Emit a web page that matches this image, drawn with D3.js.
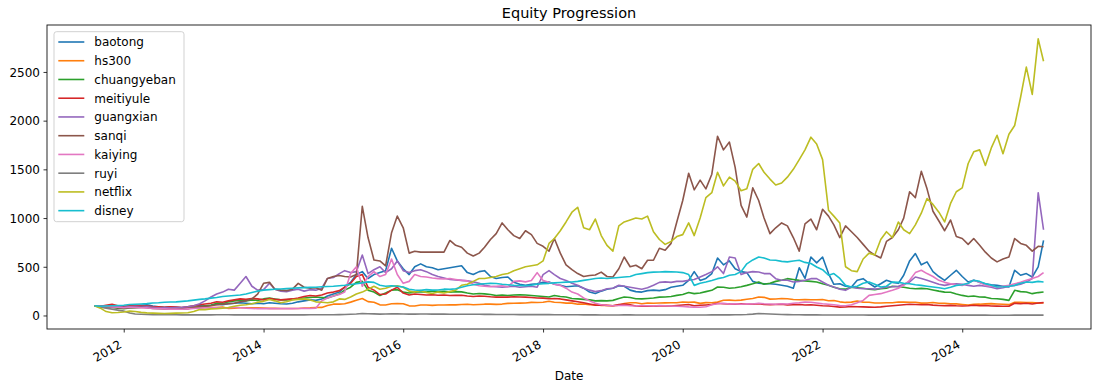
<!DOCTYPE html>
<html>
<head>
<meta charset="utf-8">
<script src="https://cdn.jsdelivr.net/npm/d3@7"></script>
<style>
	body { margin: 0; background: #fff; }
	text { font-family: "DejaVu Sans", sans-serif; fill: #000; }
</style>
</head>
<body>
<div id="chart"></div>
<script>
"use strict";

// monthly samples, Aug 2011 .. Mar 2025
var months = d3.timeMonth.range(new Date(2011, 7, 1), new Date(2025, 2, 2));

var names  = ["baotong", "hs300", "chuangyeban", "meitiyule", "guangxian", "sanqi", "kaiying", "ruyi", "netflix", "disney"];
var colors = ["#1f77b4", "#ff7f0e", "#2ca02c", "#d62728", "#9467bd", "#8c564b", "#e377c2", "#7f7f7f", "#bcbd22", "#17becf"];
var yTicks = [0, 500, 1000, 1500, 2000, 2500];
var xTicks = [2012, 2014, 2016, 2018, 2020, 2022, 2024];

var baotong = [
	100, 95, 98, 100, 92,
	88, 95, 100, 105, 110, 98, 90, 85, 88, 85, 80, 88,
	95, 100, 98, 105, 115, 110, 120, 125, 130, 125, 120, 125,
	120, 130, 125, 120, 118, 125, 140, 150, 160, 155, 170, 200,
	220, 240, 290, 340, 420, 450, 380, 420, 440, 460, 690, 560,
	480, 420, 500, 530, 500, 490, 470, 480, 490, 500, 510, 440,
	420, 450, 460, 400, 380, 390, 395, 340, 320, 310, 320, 325,
	340, 345, 320, 310, 295, 300, 305, 280, 240, 225, 250, 270,
	280, 305, 300, 260, 245, 240, 255, 260, 255, 265, 290, 300,
	310, 360, 450, 360, 380, 430, 590, 520, 560, 480, 450, 440,
	350, 330, 325, 325, 320, 310, 300, 280, 490, 380, 600, 540,
	600, 430, 320, 326, 300, 292, 361, 378, 330, 292, 326, 361,
	340, 330, 413, 560, 636, 520, 550, 450, 400, 361, 413, 464,
	400, 344, 361, 340, 326, 315, 309, 300, 292, 464, 413, 430,
	395, 498, 770
];

var hs300 = [
	100, 93, 90, 92, 84,
	80, 86, 88, 87, 89, 86, 80, 78, 74, 77, 75, 73,
	84, 88, 86, 81, 82, 86, 72, 74, 79, 80, 80, 80,
	77, 73, 73, 71, 72, 71, 71, 77, 78, 82, 83, 103,
	116, 117, 120, 137, 156, 174, 142, 135, 109, 108, 120, 122,
	121, 99, 97, 108, 107, 104, 108, 108, 110, 109, 112, 116,
	110, 113, 116, 116, 114, 117, 124, 126, 127, 128, 134, 133,
	135, 146, 136, 133, 127, 127, 116, 117, 110, 112, 104, 106,
	100, 106, 123, 130, 130, 120, 128, 126, 128, 129, 131, 130,
	138, 135, 137, 124, 132, 131, 138, 157, 158, 154, 158, 166,
	175, 190, 186, 168, 169, 175, 172, 164, 162, 164, 162, 162,
	164, 151, 153, 140, 134, 137, 148, 137, 136, 128, 128, 130,
	130, 138, 137, 136, 136, 127, 128, 133, 126, 124, 120, 119,
	113, 108, 115, 116, 119, 122, 118, 115, 111, 135, 134, 132,
	132, 127, 130
];

var chuangyeban = [
	100, 92, 88, 85, 75,
	70, 78, 80, 85, 88, 82, 78, 72, 70, 70, 66, 72,
	80, 88, 100, 105, 125, 120, 140, 150, 155, 150, 160, 155,
	170, 180, 170, 160, 160, 165, 170, 180, 185, 190, 185, 180,
	200, 220, 260, 290, 340, 350, 260, 240, 205, 230, 260, 265,
	240, 230, 240, 245, 240, 250, 245, 248, 240, 245, 242, 230,
	220, 225, 222, 215, 205, 210, 205, 210, 212, 210, 205, 200,
	195, 190, 205, 195, 190, 175, 170, 165, 160, 150, 152, 150,
	155, 175, 190, 185, 172, 170, 175, 180, 188, 190, 195, 206,
	215, 235, 224, 230, 245, 258, 292, 290, 280, 285, 295, 309,
	325, 344, 320, 330, 350, 361, 378, 370, 360, 355, 350, 344,
	326, 310, 290, 275, 270, 290, 285, 280, 270, 265, 275, 280,
	300, 295, 290, 280, 275, 278, 275, 262, 250, 240, 238, 220,
	206, 195, 200, 190, 188, 175, 172, 165, 155, 258, 245, 241,
	224, 235, 241
];

var meitiyule = [
	100, 95, 105, 115, 100,
	95, 100, 105, 100, 98, 92, 88, 85, 88, 86, 82, 90,
	100, 110, 118, 125, 140, 135, 150, 160, 170, 165, 175, 170,
	160, 175, 165, 160, 165, 170, 180, 195, 205, 200, 210, 230,
	240, 255, 290, 330, 400, 420, 290, 260, 215, 220, 260, 290,
	230, 210, 220, 215, 210, 212, 208, 210, 205, 206, 208, 200,
	195, 200, 198, 192, 188, 190, 188, 192, 190, 188, 185, 180,
	178, 172, 175, 170, 160, 150, 140, 130, 118, 105, 108, 103,
	100, 112, 118, 110, 98, 95, 94, 95, 98, 100, 98, 103,
	108, 112, 100, 105, 108, 112, 125, 120, 118, 115, 120, 118,
	115, 120, 112, 110, 113, 115, 108, 110, 112, 108, 110, 105,
	100, 98, 92, 86, 88, 92, 90, 88, 86, 84, 88, 95,
	100, 105, 110, 115, 112, 110, 112, 106, 103, 100, 104, 100,
	98, 100, 105, 100, 103, 98, 96, 95, 94, 125, 120, 125,
	118, 128, 132
];

var guangxian = [
	100, 98, 95, 97, 92,
	85, 90, 95, 92, 90, 85, 80, 78, 80, 82, 85, 90,
	100, 120, 150, 190, 220, 240, 270, 260, 330, 400, 300, 260,
	265, 330, 270, 250, 245, 260, 270, 250, 265, 260, 280, 380,
	390, 430, 460, 440, 450, 620, 430, 470, 500, 440, 480, 560,
	460, 440, 460, 470, 450, 420, 400, 385, 370, 365, 360, 355,
	345, 330, 310, 300, 295, 290, 295, 300, 290, 295, 300, 290,
	420, 460, 420, 380, 360, 330, 310, 280, 260, 245, 255, 275,
	280, 310, 300, 290, 280, 270, 285, 310, 340, 345, 340, 350,
	350, 361, 370, 395, 420, 450, 500, 430, 600, 590, 420, 440,
	450, 447, 430, 430, 378, 361, 361, 344, 350, 361, 378, 378,
	344, 310, 292, 270, 258, 292, 280, 275, 275, 270, 280, 292,
	295, 300, 320, 344, 395, 380, 361, 340, 320, 309, 320, 326,
	320, 309, 300, 309, 300, 290, 275, 285, 300, 309, 320, 344,
	378, 1260, 880
];

var sanqi = [
	100, 95, 90, 85, 80,
	75, 80, 82, 85, 80, 72, 70, 68, 66, 68, 65, 70,
	80, 90, 95, 100, 110, 115, 120, 125, 140, 150, 170, 220,
	330, 340, 270, 260, 255, 270, 330, 290, 280, 285, 260, 380,
	400, 410, 400, 395, 420, 1120, 800, 570, 560, 510, 850, 1020,
	900, 640, 660, 650, 650, 650, 650, 650, 770, 720, 700, 640,
	610, 640, 700, 780, 840, 950, 880, 820, 790, 870, 830, 740,
	710, 660, 790, 640, 520, 470, 430, 400, 410, 415, 445, 400,
	395, 480, 600, 500, 516, 480, 567, 567, 690, 670, 740, 960,
	1180, 1460, 1290, 1390, 1300, 1450, 1840, 1700, 1780, 1520, 1130, 1010,
	1310, 1180, 1000, 840, 900, 950, 920, 800, 660, 940, 990, 880,
	1090, 1020, 930, 800, 920, 860, 800, 730, 660, 620, 590, 760,
	800, 880, 1000, 1270, 1210, 1480, 1300, 1070, 970, 870, 980, 810,
	790, 730, 790, 720, 650, 590, 550, 580, 600, 790, 740, 720,
	660, 710, 705
];

var kaiying = [
	100, 95, 92, 88, 85,
	80, 85, 82, 80, 78, 72, 70, 68, 65, 66, 64, 68,
	72, 75, 78, 80, 82, 78, 80, 85, 80, 75, 72, 70,
	72, 70, 70, 72, 70, 70, 72, 74, 72, 75, 150, 180,
	200, 215, 240, 430, 500, 300, 400, 450, 400, 420, 580, 420,
	330, 350, 420, 400, 395, 385, 378, 375, 380, 370, 360, 355,
	320, 305, 300, 295, 300, 305, 295, 350, 355, 345, 360, 440,
	360, 340, 320, 309, 280, 240, 220, 180, 150, 125, 110, 105,
	100, 103, 105, 100, 98, 103, 100, 98, 102, 100, 98, 95,
	92, 88, 86, 85, 90, 110, 120, 125, 118, 120, 115, 120,
	118, 125, 120, 118, 115, 120, 118, 125, 130, 137, 135, 128,
	120, 115, 110, 103, 100, 110, 130, 155, 206, 215, 224, 240,
	258, 280, 310, 361, 440, 464, 430, 400, 361, 340, 326, 315,
	309, 330, 361, 340, 309, 300, 292, 300, 310, 326, 340, 361,
	380, 400, 440
];

var ruyi = [
	100, 85, 75, 65, 55,
	45, 25, 15, 12, 10, 9, 8, 8, 7, 7, 6, 6,
	6, 6, 6, 6, 7, 7, 7, 6, 6, 6, 6, 6,
	6, 6, 6, 6, 6, 6, 6, 6, 7, 7, 7, 8,
	8, 9, 10, 12, 15, 20, 18, 16, 14, 15, 16, 16,
	15, 14, 14, 15, 15, 14, 14, 14, 13, 13, 13, 12,
	12, 12, 11, 11, 10, 10, 10, 10, 9, 9, 9, 9,
	9, 9, 8, 8, 8, 7, 7, 6, 6, 6, 5, 5,
	5, 5, 6, 6, 5, 5, 5, 5, 5, 5, 5, 5,
	5, 5, 5, 5, 5, 6, 6, 6, 6, 7, 8, 10,
	14, 20, 18, 15, 12, 10, 9, 8, 7, 6, 6, 6,
	5, 5, 5, 5, 5, 5, 5, 5, 4, 4, 4, 4,
	4, 4, 4, 4, 4, 4, 4, 4, 4, 4, 4, 4,
	4, 4, 4, 4, 4, 3, 3, 3, 3, 4, 4, 4,
	4, 4, 4
];

var netflix = [
	100, 75, 40, 28, 30,
	35, 45, 40, 32, 27, 24, 22, 20, 22, 24, 25, 28,
	40, 62, 60, 68, 70, 75, 82, 95, 105, 110, 120, 135,
	145, 165, 150, 130, 140, 160, 165, 170, 160, 140, 135, 130,
	140, 170, 165, 190, 220, 240, 270, 300, 270, 280, 300, 305,
	290, 250, 240, 255, 235, 225, 240, 230, 245, 260, 310, 320,
	350, 380, 380, 390, 400, 420, 430, 460, 480, 500, 510, 520,
	560, 740, 790, 870, 960, 1060, 1110, 900, 880, 990, 820, 720,
	660, 920, 960, 980, 1000, 990, 1020, 860, 780, 730, 760, 810,
	830, 950, 820, 1000, 1210, 1260, 1470, 1330, 1420, 1380, 1280, 1300,
	1500, 1560, 1470, 1400, 1340, 1360, 1420, 1500, 1600, 1700, 1830, 1760,
	1600, 1080, 1020, 950, 500, 460, 450, 580, 640, 620, 780, 860,
	800, 960, 880, 840, 930, 1050, 1200, 1140, 1060, 960, 1150, 1270,
	1310, 1560, 1680, 1700, 1540, 1720, 1850, 1660, 1860, 1950, 2240, 2550,
	2270, 2840, 2610
];

var disney = [
	100, 95, 98, 100, 102,
	105, 112, 115, 118, 122, 128, 130, 135, 138, 140, 145, 150,
	158, 165, 170, 178, 185, 195, 200, 205, 210, 220, 235, 250,
	260, 265, 270, 272, 276, 280, 283, 286, 288, 290, 295, 298,
	300, 305, 310, 318, 326, 335, 345, 340, 310, 300, 305, 300,
	292, 270, 262, 258, 265, 260, 262, 270, 268, 275, 290, 305,
	315, 322, 326, 330, 328, 320, 315, 310, 308, 305, 310, 320,
	326, 330, 335, 338, 342, 344, 350, 360, 370, 380, 385, 380,
	385, 390, 395, 400, 420, 430, 440, 445, 447, 450, 448, 447,
	440, 420, 309, 330, 344, 360, 378, 390, 413, 420, 450, 530,
	570, 600, 590, 570, 567, 555, 550, 560, 567, 545, 533, 498,
	470, 413, 430, 380, 309, 292, 300, 330, 344, 320, 292, 300,
	344, 340, 330, 326, 315, 309, 300, 292, 285, 275, 290, 309,
	315, 330, 361, 350, 326, 310, 292, 295, 300, 309, 330, 344,
	340, 350, 344
];

var seriesValues = [baotong, hs300, chuangyeban, meitiyule, guangxian, sanqi, kaiying, ruyi, netflix, disney];

var width = 1101, height = 389;
var plotLeft = 47, plotRight = 1091, plotTop = 25, plotBottom = 329;
var fontsize = 12;
var lineWidth = 1.6;

var series = names.map(function(name, i){
	return {name: name, color: colors[i], values: seriesValues[i].map(function(v, j){ return {date: months[j], value: v}; })};
});

// matplotlib style 5% margins
var all = d3.merge(seriesValues);
var ymin = d3.min(all), ymax = d3.max(all), ypad = (ymax - ymin) * 0.05;
var y = d3.scaleLinear().domain([ymin - ypad, ymax + ypad]).range([plotBottom, plotTop]);

var t0 = months[0], t1 = months[months.length - 1], tpad = (t1 - t0) * 0.05;
var x = d3.scaleTime().domain([new Date(+t0 - tpad), new Date(+t1 + tpad)]).range([plotLeft, plotRight]);

var svg = d3.select("#chart")
			.append("svg")
			.attr("width", width)
			.attr("height", height);

svg.append("text")
		.attr("x", (plotLeft + plotRight) / 2)
		.attr("y", 18)
		.attr("text-anchor", "middle")
		.style("font-size", "14.5px")
		.text("Equity Progression");

var line = d3.line()
			.x(function(d){ return x(d.date); })
			.y(function(d){ return y(d.value); });

svg.append("g")
		.selectAll("path")
		.data(series)
		.enter()
		.append("path")
		.attr("d", function(d){ return line(d.values); })
		.attr("fill", "none")
		.attr("stroke", function(d){ return d.color; })
		.attr("stroke-width", lineWidth)
		.attr("stroke-linejoin", "round");

// y axis
var yAxis = svg.append("g")
		.attr("transform", "translate(" + plotLeft + ",0)")
		.call(d3.axisLeft(y)
				.tickValues(yTicks)
				.tickFormat(d3.format("d"))
				.tickSize(3.5)
				.tickPadding(3.5));

yAxis.select(".domain").remove();
yAxis.selectAll("line").attr("stroke", "#000").attr("stroke-width", 0.8);
yAxis.selectAll("text")
		.attr("dy", "0.36em")
		.attr("font-family", "DejaVu Sans")
		.style("font-size", fontsize + "px");

// x axis
var xAxis = svg.append("g")
		.attr("transform", "translate(0," + plotBottom + ")")
		.call(d3.axisBottom(x)
				.tickValues(xTicks.map(function(yr){ return new Date(yr, 0, 1); }))
				.tickFormat(d3.timeFormat("%Y"))
				.tickSize(3.5));

xAxis.select(".domain").remove();
xAxis.selectAll("line").attr("stroke", "#000").attr("stroke-width", 0.8);
xAxis.selectAll("text")
		.attr("x", 0)
		.attr("y", 0)
		.attr("dy", 0)
		.attr("text-anchor", "end")
		.attr("transform", "translate(-1.5,18) rotate(-30)")
		.attr("font-family", "DejaVu Sans")
		.style("font-size", fontsize + "px");

svg.append("text")
		.attr("x", (plotLeft + plotRight) / 2)
		.attr("y", 380)
		.attr("text-anchor", "middle")
		.style("font-size", fontsize + "px")
		.text("Date");

// frame
svg.append("rect")
		.attr("x", plotLeft)
		.attr("y", plotTop)
		.attr("width", plotRight - plotLeft)
		.attr("height", plotBottom - plotTop)
		.attr("fill", "none")
		.attr("stroke", "#111")
		.attr("stroke-width", 0.9);

// legend
var lx = 54, ly = 31.7, rowh = 18.74;

var legend = svg.append("g");

legend.append("rect")
		.attr("x", lx)
		.attr("y", ly)
		.attr("width", 130)
		.attr("height", 190)
		.attr("rx", 2.5)
		.attr("fill", "#fff")
		.attr("fill-opacity", 0.8)
		.attr("stroke", "#ccc")
		.attr("stroke-width", 0.9);

var item = legend.selectAll("g.item")
		.data(series)
		.enter()
		.append("g")
		.attr("class", "item")
		.attr("transform", function(d, i){ return "translate(0," + (42 + i * rowh) + ")"; });

item.append("line")
		.attr("x1", 58.3)
		.attr("x2", 84.3)
		.attr("stroke", function(d){ return d.color; })
		.attr("stroke-width", lineWidth);

item.append("text")
		.attr("x", 94.3)
		.attr("y", 4.4)
		.style("font-size", fontsize + "px")
		.text(function(d){ return d.name; });
</script>
</body>
</html>
